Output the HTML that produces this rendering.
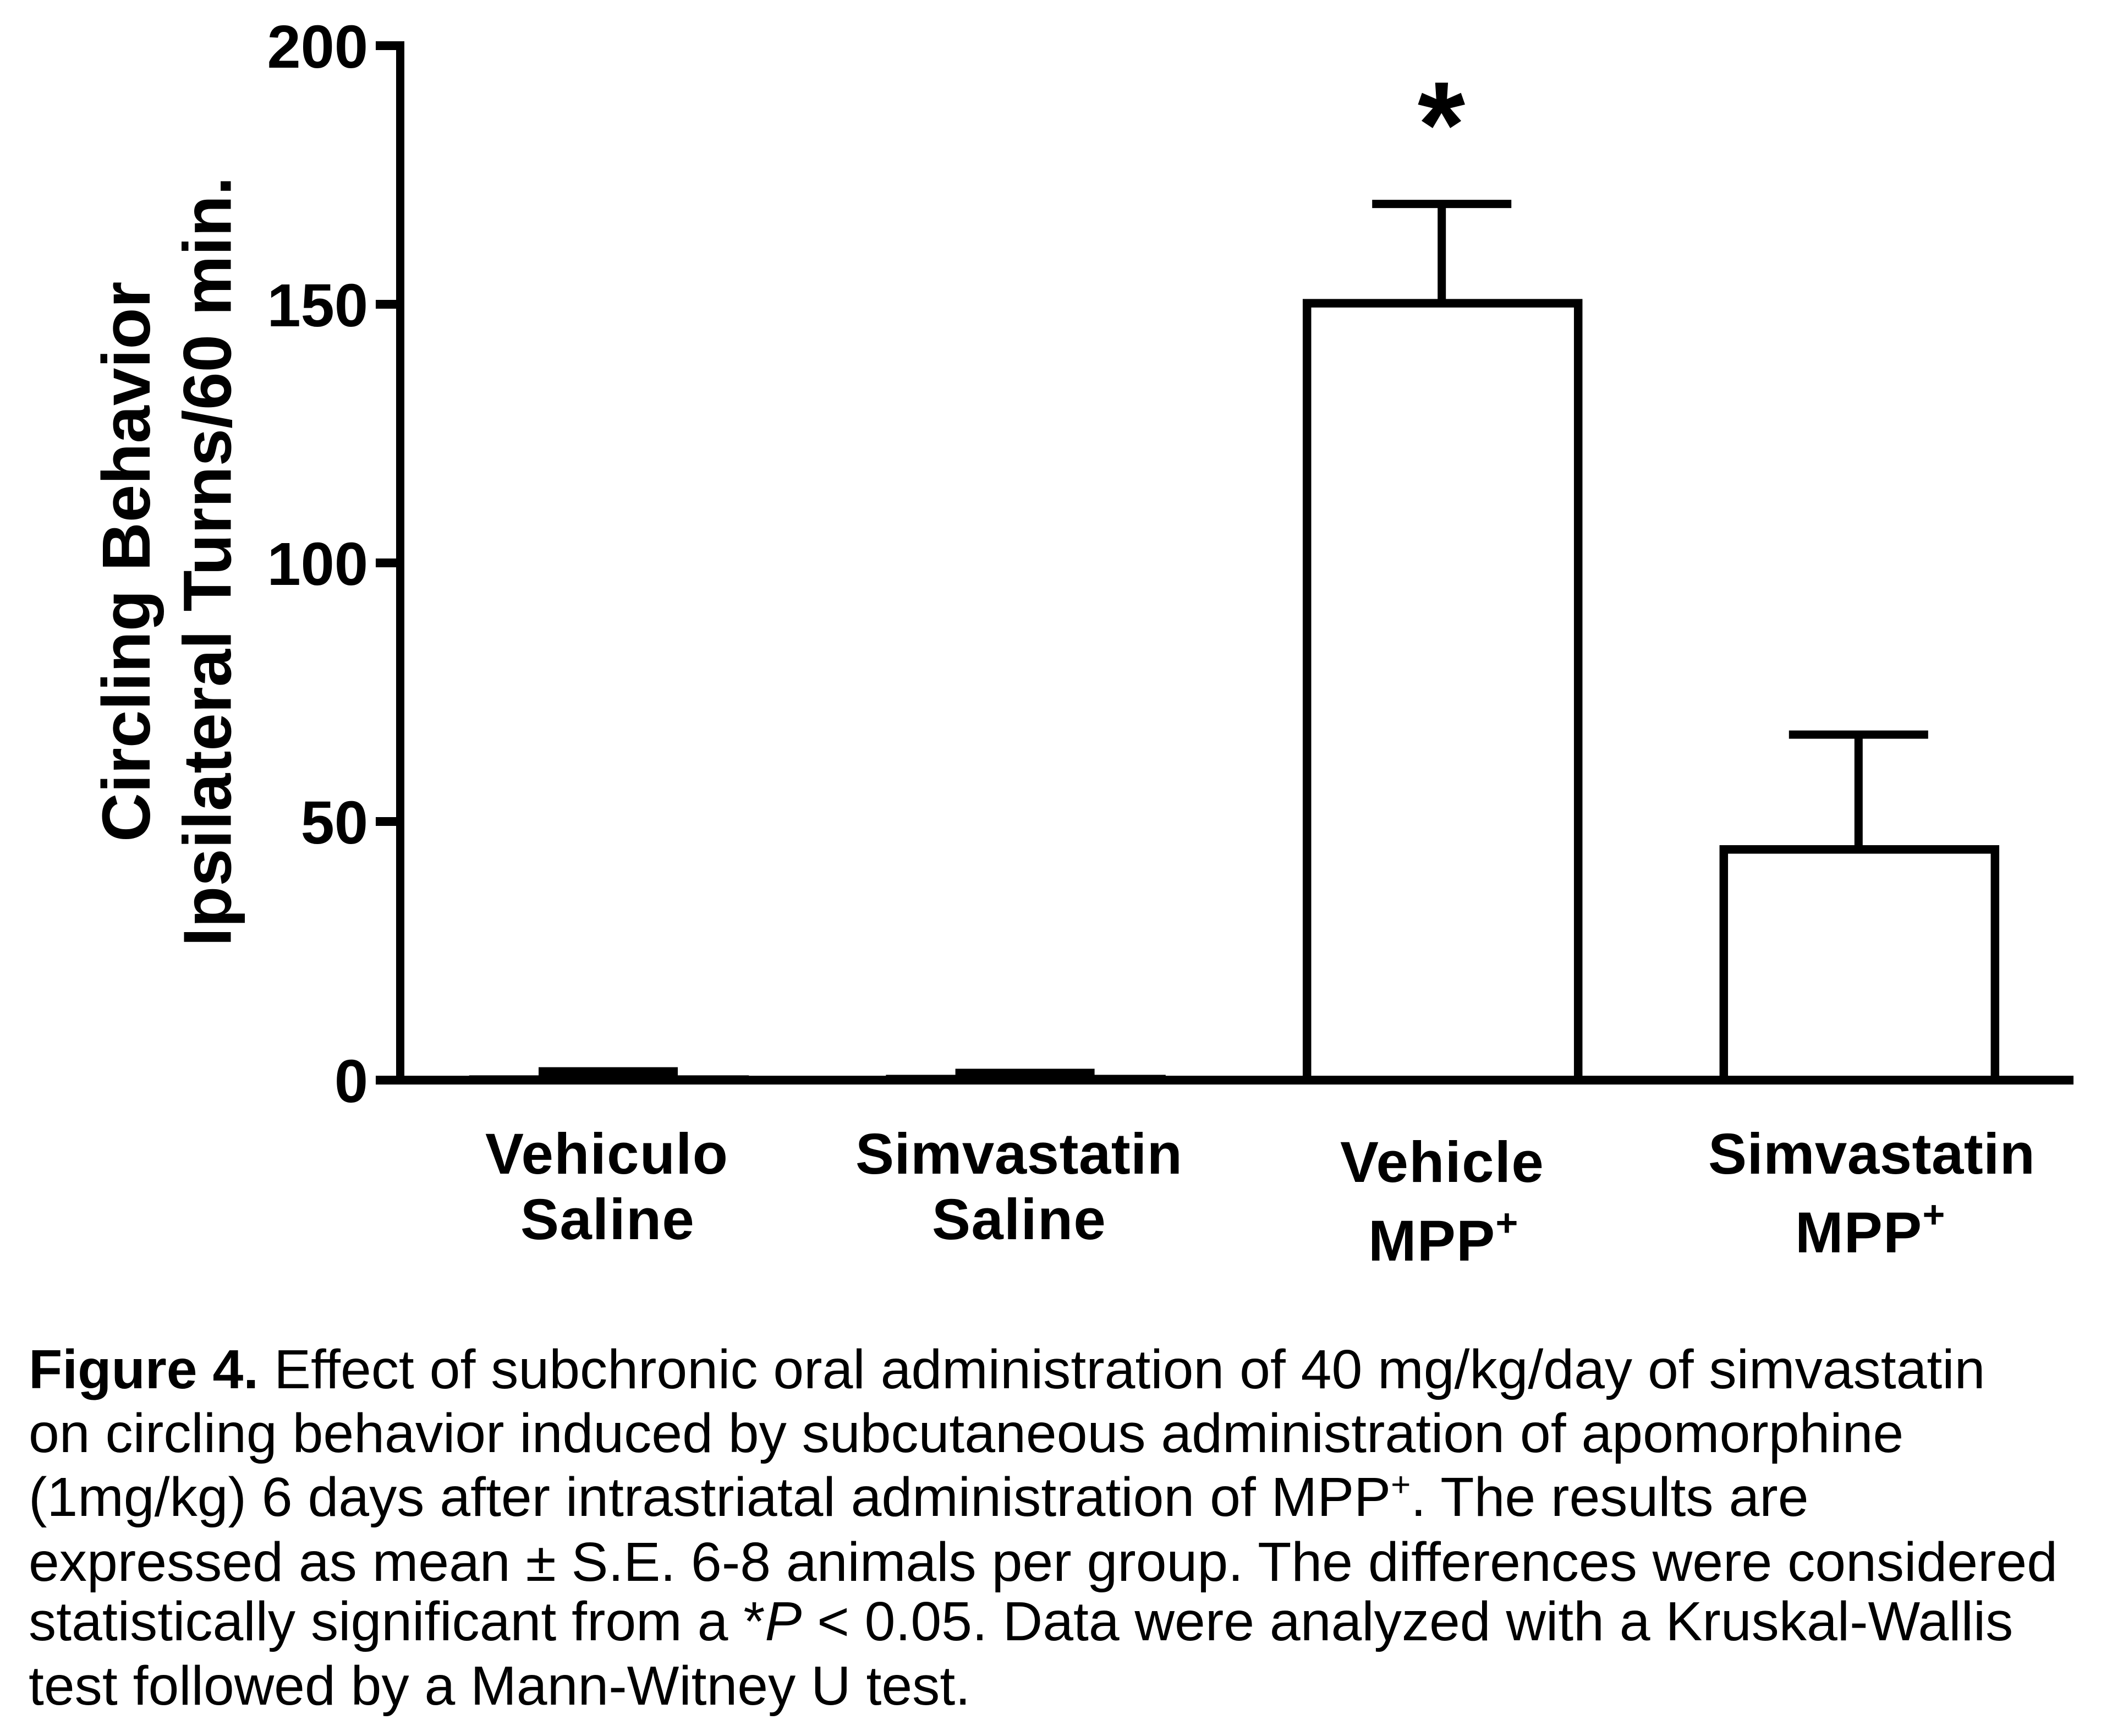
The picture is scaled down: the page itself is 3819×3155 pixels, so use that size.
<!DOCTYPE html>
<html lang="en">
<head>
<meta charset="utf-8">
<title>Figure 4 - Circling Behavior</title>
<style>
  html, body { margin: 0; padding: 0; background: #fff; }
  body { width: 3819px; height: 3155px; overflow: hidden; }
  svg { display: block; }
  text { font-family: "Liberation Sans", Arial, sans-serif; fill: #000; }
  .bold { font-weight: 700; }
  .xl { font-size: 105px; font-weight: 700; letter-spacing: 1.3px; }
  .xl.tight { letter-spacing: 0.45px; }
  .yt { font-size: 123px; font-weight: 700; }
  .cap { font-size: 100.35px; }
</style>
</head>
<body>
<svg id="figure" xmlns="http://www.w3.org/2000/svg" width="3819" height="3155" viewBox="0 0 3819 3155">
  <rect x="0" y="0" width="3819" height="3155" fill="#fff"/>
  <g id="plot"></g>

  <text class="yt" transform="translate(272 1530) rotate(-90)">Circling Behavior</text>
  <text class="yt" transform="translate(419.5 1720) rotate(-90)">Ipsilateral Turns/60 min.</text>

  <text class="bold" x="2620" y="303" font-size="222" text-anchor="middle">*</text>

  <text class="xl" x="882" y="2133">Vehiculo</text>
  <text class="xl" x="946" y="2252">Saline</text>
  <text class="xl tight" x="1555" y="2133">Simvastatin</text>
  <text class="xl" x="1694" y="2252">Saline</text>
  <text class="xl" x="2436" y="2148">Vehicle</text>
  <text class="xl" x="2487" y="2291">MPP<tspan font-size="70" dy="-45">+</tspan></text>
  <text class="xl tight" x="3105" y="2133">Simvastatin</text>
  <text class="xl" x="3263" y="2276">MPP<tspan font-size="70" dy="-45">+</tspan></text>

  <g>
    <text class="cap" x="52" y="2523"><tspan class="bold">Figure 4.</tspan> Effect of subchronic oral administration of 40 mg/kg/day of simvastatin</text>
    <text class="cap" x="52" y="2639">on circling behavior induced by subcutaneous administration of apomorphine</text>
    <text class="cap" x="52" y="2755">(1mg/kg) 6 days after intrastriatal administration of MPP<tspan font-size="62" dy="-36">+</tspan><tspan dy="36">. The results are</tspan></text>
    <text class="cap" x="52" y="2873">expressed as mean ± S.E. 6-8 animals per group. The differences were considered</text>
    <text class="cap" x="52" y="2981">statistically significant from a *<tspan font-style="italic">P</tspan> &lt; 0.05. Data were analyzed with a Kruskal-Wallis</text>
    <text class="cap" x="52" y="3098">test followed by a Mann-Witney U test.</text>
  </g>
</svg>

<script>
const categories = ['vehiculo-saline', 'simvastatin-saline', 'vehicle-mpp', 'simvastatin-mpp'];
const means = [0.1, 0.2, 150.2, 44.6];
const errors = [1.6, 1.2, 19.2, 22.2];
const yTicks = [0, 50, 100, 150, 200];

const NS = 'http://www.w3.org/2000/svg';
const plot = document.getElementById('plot');

function yScale(v) { return 1963 - v * 9.4; }
function xCenter(i) { return 1107 + 757.6 * i; }

function addRect(x, y, w, h) {
  const r = document.createElementNS(NS, 'rect');
  r.setAttribute('x', x);
  r.setAttribute('y', y);
  r.setAttribute('width', w);
  r.setAttribute('height', h);
  r.setAttribute('fill', '#000');
  plot.appendChild(r);
  return r;
}

categories.forEach(function (cat, i) {
  const cx = xCenter(i);
  const top = yScale(means[i]);
  const errTop = yScale(means[i] + errors[i]);

  const stem = addRect(cx - 9, errTop, 15, top - errTop);
  
  

  const cap = addRect(cx - 128, errTop - 7.5, 253, 15);
  
  

  const bar = document.createElementNS(NS, 'rect');
  bar.setAttribute('x', cx - 246.5);
  bar.setAttribute('y', top);
  bar.setAttribute('width', 493);
  bar.setAttribute('height', yScale(0) - top);
  bar.setAttribute('fill', '#fff');
  bar.setAttribute('stroke', '#000');
  bar.setAttribute('stroke-width', 15.5);
  
  
  plot.appendChild(bar);
});

const yAxisLine = addRect(720, yScale(200) - 8, 15, yScale(0) - yScale(200) + 8);



const xAxisLine = addRect(720, yScale(0) - 8, 3049, 16);



yTicks.forEach(function (t) {
  const y = yScale(t);
  const tick = addRect(683, y - 8, 40, 16);
  
  

  const label = document.createElementNS(NS, 'text');
  label.setAttribute('x', 669);
  label.setAttribute('y', y + 40);
  label.setAttribute('text-anchor', 'end');
  label.setAttribute('font-size', 110);
  label.setAttribute('font-weight', 700);
  
  
  label.textContent = String(t);
  plot.appendChild(label);
});
</script>
</body>
</html>
